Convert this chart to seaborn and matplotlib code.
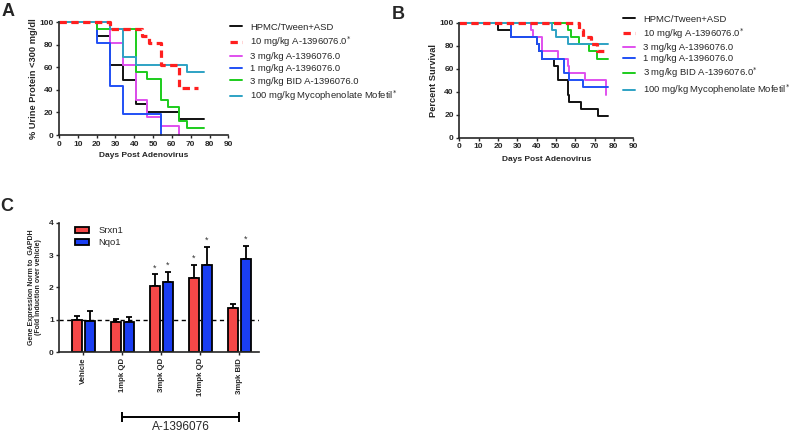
import matplotlib
import pandas as pd
import seaborn as sns
import matplotlib.pyplot as plt
import matplotlib.transforms as mtransforms

matplotlib.use('Agg')

# ---- data ----
# panel A: % urine protein < 300 mg/dl (step curves)
a_hpmc_days = [0, 20, 27, 34, 41, 47, 64, 77]
a_hpmc_pct = [100, 87.5, 62.5, 48.6, 27.8, 20.8, 13.9, 13.9]
a_10_days = [0, 27, 44, 48, 54, 64, 74]
a_10_pct = [100, 93.8, 87.5, 81.3, 62.5, 41.7, 41.7]
a_3_days = [0, 27, 34, 41, 47, 54, 64]
a_3_pct = [100, 81.3, 62.5, 31.3, 15.6, 7.8, 0]
a_1_days = [0, 20, 27, 34, 54]
a_1_pct = [100, 81.3, 43.8, 18.8, 0]
a_bid_days = [0, 20, 41, 47, 54, 58, 64, 68, 77]
a_bid_pct = [100, 93.8, 56.3, 50, 31.3, 25, 12.5, 6.3, 6.3]
a_mmf_days = [0, 27, 34, 41, 68, 77]
a_mmf_pct = [100, 93.8, 68.8, 62.5, 56.3, 56.3]

# panel B: percent survival
b_hpmc_days = [0, 20, 27, 40, 41, 43, 49, 51, 56, 57, 63, 72, 77]
b_hpmc_pct = [100, 93.8, 87.5, 81.3, 75, 68.8, 62.5, 50, 37.5, 31.3, 25, 18.8, 18.8]
b_10_days = [0, 62, 64, 68, 71, 77]
b_10_pct = [100, 93.8, 87.5, 81.3, 75, 75]
b_3_days = [0, 37, 38, 43, 51, 56, 57, 65, 76]
b_3_pct = [100, 93.8, 87.5, 75, 68.8, 62.5, 56.3, 50, 37.5]
b_1_days = [0, 27, 40, 41, 43, 54, 57, 64, 77]
b_1_pct = [100, 87.5, 81.3, 75, 68.8, 56.3, 50, 43.8, 43.8]
b_bid_days = [0, 56, 58, 62, 67, 71, 77]
b_bid_pct = [100, 93.8, 87.5, 81.3, 75, 68.8, 68.8]
b_mmf_days = [0, 48, 50, 56, 77]
b_mmf_pct = [100, 93.8, 87.5, 81.3, 81.3]

lab_hpmc = 'HPMC/Tween+ASD'
lab_10 = '10 mg/kg A-1396076.0'
lab_3 = '3 mg/kg A-1396076.0'
lab_1 = '1 mg/kg A-1396076.0'
lab_bid = '3 mg/kg BID A-1396076.0'
lab_mmf = '100 mg/kg Mycophenolate Mofetil'
STAR = '$^{*}$'

# panel C: gene expression
groups = ['Vehicle', '1mpk QD', '3mpk QD', '10mpk QD', '3mpk BID']
genes = ['Srxn1', 'Nqo1']
srxn1 = [1.00, 0.92, 2.05, 2.30, 1.36]
srxn1_err = [0.13, 0.12, 0.36, 0.40, 0.13]
nqo1 = [0.98, 0.92, 2.18, 2.70, 2.88]
nqo1_err = [0.30, 0.17, 0.31, 0.56, 0.40]
srxn1_sig = [False, False, True, True, False]
nqo1_sig = [False, False, True, True, True]

# colours
C_BLACK = '#111111'
C_RED = '#ff1f1f'
C_MAG = '#e050ee'
C_BLUE = '#2050f5'
C_GREEN = '#1ccc1c'
C_CYAN = '#2ea2c4'
BAR_RED = '#f54848'
BAR_BLUE = '#1a3ef2'

sns.set_style('ticks')
plt.rcParams['font.family'] = ['Liberation Sans', 'DejaVu Sans']
plt.rcParams['axes.linewidth'] = 1.2
plt.rcParams['xtick.major.width'] = 1.0
plt.rcParams['ytick.major.width'] = 1.0
plt.rcParams['xtick.major.size'] = 2.5
plt.rcParams['ytick.major.size'] = 2.5
plt.rcParams['xtick.major.pad'] = 1.5
plt.rcParams['ytick.major.pad'] = 1.5

fig = plt.figure(figsize=(7.89, 4.33), dpi=100)
axA = fig.add_axes([0.0748, 0.6882, 0.2146, 0.2603])
axB = fig.add_axes([0.5821, 0.682, 0.2205, 0.2656])
axC = fig.add_axes([0.0752, 0.1864, 0.2535, 0.2993])


def step_series(ax, days, pct, color, dashed=False):
    if dashed:
        sns.lineplot(x=days, y=pct, ax=ax, color=color, drawstyle='steps-post',
                     estimator=None, lw=2.3, linestyle=(0, (2.3, 1.4)), clip_on=False)
    else:
        sns.lineplot(x=days, y=pct, ax=ax, color=color, drawstyle='steps-post',
                     estimator=None, lw=1.4, clip_on=False)
    return ax.lines[-1]


def km_axes(ax, ylabel, ylab_x, xlab_y):
    sns.despine(ax=ax)
    ax.set_xlim(0, 90)
    ax.set_ylim(0, 100)
    ax.set_xticks(range(0, 91, 10))
    ax.set_yticks(range(0, 101, 20))
    ax.tick_params(labelsize=6)
    for t in ax.get_xticklabels() + ax.get_yticklabels():
        t.set_fontweight('bold')
    ax.set_xlabel('Days Post Adenovirus', fontsize=6, fontweight='bold')
    ax.set_ylabel(ylabel, fontsize=6.7, fontweight='bold')
    ax.yaxis.set_label_coords(ylab_x, 0.5)
    ax.xaxis.set_label_coords(0.5, xlab_y)


# ---- panel A ----
hA = {}
hA['hpmc'] = step_series(axA, a_hpmc_days, a_hpmc_pct, C_BLACK)
hA['3'] = step_series(axA, a_3_days, a_3_pct, C_MAG)
hA['1'] = step_series(axA, a_1_days, a_1_pct, C_BLUE)
hA['bid'] = step_series(axA, a_bid_days, a_bid_pct, C_GREEN)
hA['mmf'] = step_series(axA, a_mmf_days, a_mmf_pct, C_CYAN)
hA['10'] = step_series(axA, a_10_days, a_10_pct, C_RED, dashed=True)
km_axes(axA, '% Urine Protein <300 mg/dl', -0.125, -0.15)
axA.legend([hA['hpmc'], hA['10'], hA['3'], hA['1'], hA['bid'], hA['mmf']],
           [lab_hpmc, lab_10 + STAR, lab_3, lab_1, lab_bid, lab_mmf + STAR],
           loc='upper left', bbox_to_anchor=(0.2915, 0.948), bbox_transform=fig.transFigure,
           frameon=False, fontsize=6.8, handlelength=1.3, handletextpad=0.85,
           labelspacing=0.33, borderpad=0, borderaxespad=0)

# ---- panel B ----
hB = {}
hB['hpmc'] = step_series(axB, b_hpmc_days, b_hpmc_pct, C_BLACK)
hB['3'] = step_series(axB, b_3_days, b_3_pct, C_MAG)
hB['1'] = step_series(axB, b_1_days, b_1_pct, C_BLUE)
hB['bid'] = step_series(axB, b_bid_days, b_bid_pct, C_GREEN)
hB['mmf'] = step_series(axB, b_mmf_days, b_mmf_pct, C_CYAN)
hB['10'] = step_series(axB, b_10_days, b_10_pct, C_RED, dashed=True)
km_axes(axB, 'Percent Survival', -0.125, -0.16)
axB.legend([hB['hpmc'], hB['10'], hB['3'], hB['1'], hB['bid'], hB['mmf']],
           [lab_hpmc, lab_10 + STAR, lab_3, lab_1, lab_bid + STAR, lab_mmf + STAR],
           loc='upper left', bbox_to_anchor=(0.789, 0.966), bbox_transform=fig.transFigure,
           frameon=False, fontsize=6.8, handlelength=1.3, handletextpad=0.85,
           labelspacing=0.25, borderpad=0, borderaxespad=0)

# ---- panel C ----
df = pd.DataFrame({
    'group': groups * 2,
    'gene': ['Srxn1'] * len(groups) + ['Nqo1'] * len(groups),
    'value': srxn1 + nqo1,
})
sns.barplot(data=df, x='group', y='value', hue='gene', hue_order=genes, order=groups,
            palette=[BAR_RED, BAR_BLUE], width=0.65, gap=0.19, errorbar=None,
            edgecolor='black', linewidth=1.3, saturation=1, ax=axC, zorder=2)
for cont, err, sig in zip(axC.containers, [srxn1_err, nqo1_err], [srxn1_sig, nqo1_sig]):
    xs = [p.get_x() + p.get_width() / 2 for p in cont.patches]
    ys = [p.get_height() for p in cont.patches]
    axC.errorbar(xs, ys, yerr=[[0] * len(err), err], fmt='none', ecolor='black',
                 elinewidth=1.3, capsize=2.3, capthick=1.3, zorder=1.5)
    for x, y, e, s in zip(xs, ys, err, sig):
        if s:
            axC.text(x, y + e + 0.06, '*', ha='center', va='bottom', fontsize=6.5,
                     color='#333333')
axC.axhline(1, color='black', lw=1.0, ls=(0, (3, 2.5)), zorder=1)
sns.despine(ax=axC)
axC.set_ylim(0, 4)
axC.set_xlim(-0.615, 4.51)
axC.set_yticks(range(0, 5))
axC.tick_params(axis='y', labelsize=6)
axC.tick_params(axis='x', labelsize=5.6, rotation=90)
for t in axC.get_xticklabels() + axC.get_yticklabels():
    t.set_fontweight('bold')
axC.set_xlabel('')
axC.set_ylabel('Gene Expression Norm to  GAPDH\n(Fold induction over vehicle)',
               fontsize=5, fontweight='bold', linespacing=1.1)
axC.yaxis.set_label_coords(-0.085, 0.5)
axC.legend(loc='upper left', bbox_to_anchor=(0.095, 0.478), bbox_transform=fig.transFigure,
           frameon=False, fontsize=6.8, handlelength=1.5, handleheight=0.6,
           handletextpad=1.0, labelspacing=0.35, borderpad=0, borderaxespad=0)

# bracket under the A-1396076 doses
trans = mtransforms.blended_transform_factory(axC.transData, axC.transAxes)
axC.plot([1, 4], [-0.497, -0.497], color='black', lw=1.4, transform=trans, clip_on=False)
axC.plot([1, 4], [-0.497, -0.497], ls='none', marker='|', ms=7, mew=1.4, color='black',
         transform=trans, clip_on=False)
axC.text(2.5, -0.53, 'A-1396076', ha='center', va='top', fontsize=8.5, transform=trans)

# panel letters
fig.text(0.002, 0.992, 'A', fontsize=13, fontweight='bold', va='top')
fig.text(0.497, 0.985, 'B', fontsize=13, fontweight='bold', va='top')
fig.text(0.0, 0.542, 'C', fontsize=13, fontweight='bold', va='top')

fig.savefig('out.png', dpi=100)
